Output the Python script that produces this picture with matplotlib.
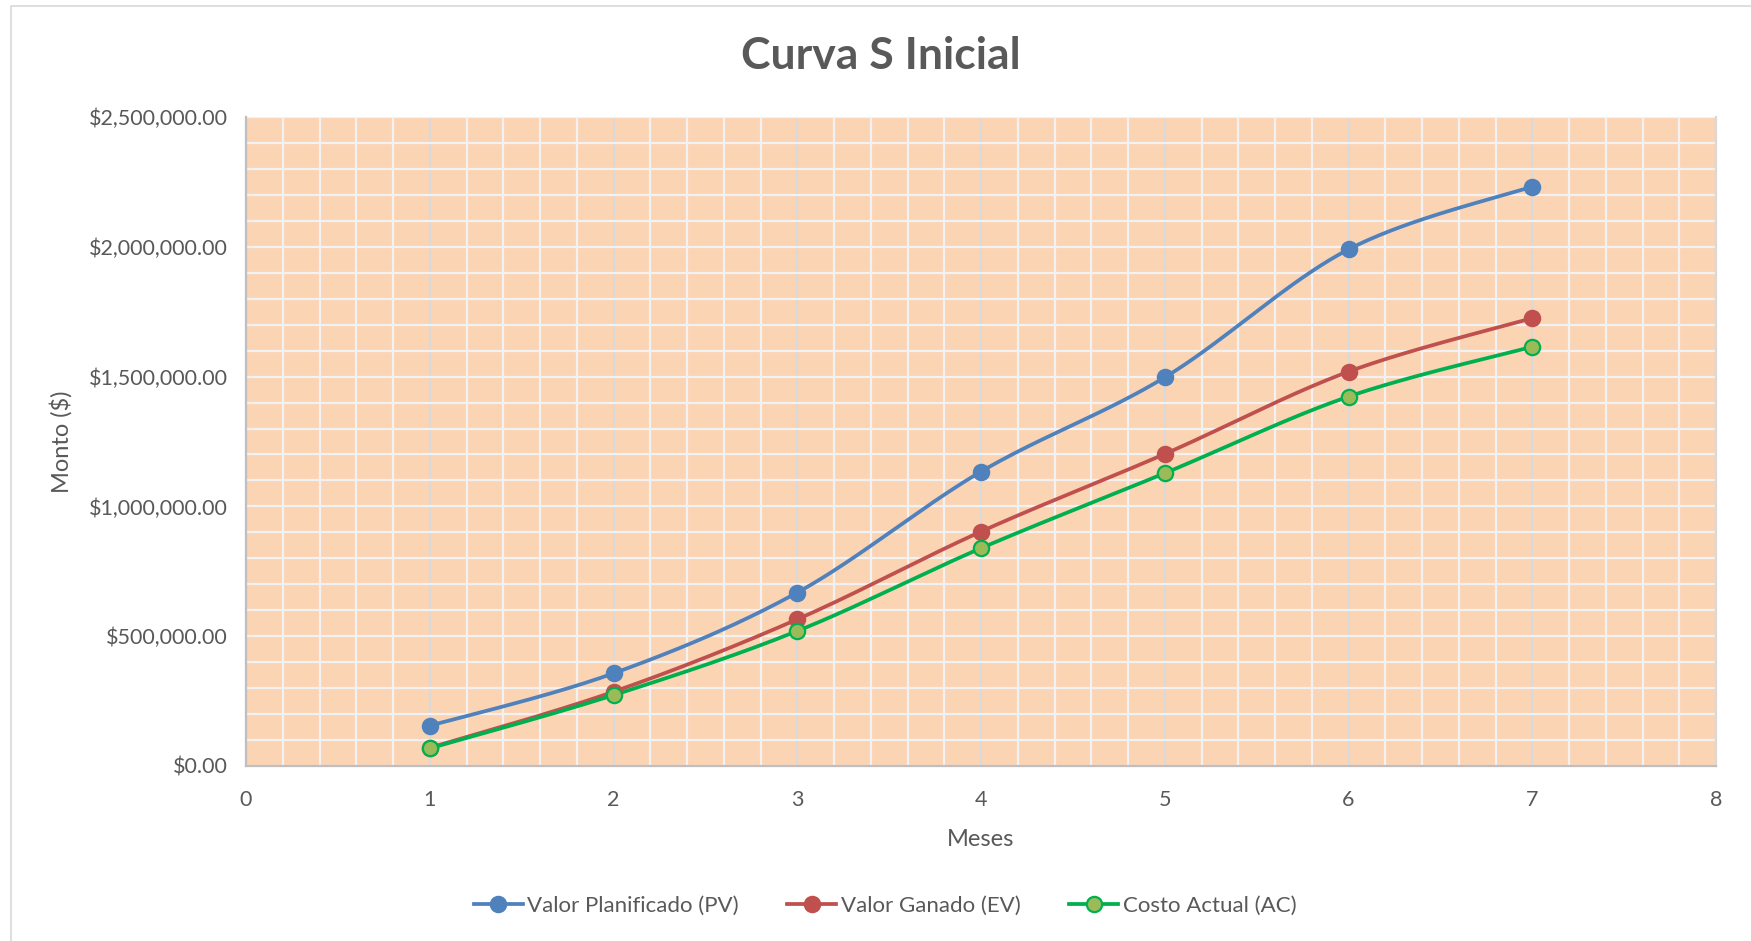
import numpy as np
import matplotlib
matplotlib.use('Agg')
import matplotlib.pyplot as plt
from matplotlib.ticker import MultipleLocator, FuncFormatter
from matplotlib.patches import Rectangle

plt.rcParams['font.family'] = ['Lato', 'DejaVu Sans']

#datos de la curva S
meses = [1, 2, 3, 4, 5, 6, 7]
pv = [155000, 357000, 668000, 1134000, 1497000, 1990000, 2232000]
ev = [70000, 286000, 565000, 903000, 1202000, 1519000, 1725000]
ac = [68000, 273000, 520000, 839000, 1128000, 1423000, 1615000]
nombres = ['Valor Planificado (PV)', 'Valor Ganado (EV)', 'Costo Actual (AC)']

gris = '#595959'


def suavizar(x, y, n=40):
    #curva suavizada tipo Excel (bezier con tangentes de Catmull-Rom)
    x = np.asarray(x, float)
    y = np.asarray(y, float)
    px = np.concatenate([[x[0]], x, [x[-1]]])
    py = np.concatenate([[y[0]], y, [y[-1]]])
    t = np.linspace(0, 1, n)[:, None]
    xs, ys = [], []
    for i in range(1, len(px) - 2):
        p0 = np.array([px[i], py[i]])
        p3 = np.array([px[i + 1], py[i + 1]])
        p1 = p0 + (np.array([px[i + 1], py[i + 1]]) - np.array([px[i - 1], py[i - 1]])) / 6
        p2 = p3 - (np.array([px[i + 2], py[i + 2]]) - np.array([px[i], py[i]])) / 6
        b = (1 - t) ** 3 * p0 + 3 * (1 - t) ** 2 * t * p1 + 3 * (1 - t) * t ** 2 * p2 + t ** 3 * p3
        xs.append(b[:, 0])
        ys.append(b[:, 1])
    return np.concatenate(xs), np.concatenate(ys)


fig = plt.figure(figsize=(17.51, 9.41), dpi=100)
fig.patches.append(Rectangle((11 / 1751, -0.01), 1.1, 1 - 6 / 941 + 0.01, transform=fig.transFigure,
                             fill=False, edgecolor='#d9d9d9', lw=1.2))
ax = fig.add_axes([246 / 1751, 1 - 766 / 941, (1716 - 246) / 1751, (766 - 117) / 941])
ax.set_facecolor('#fbd4b4')

ax.set_xlim(0, 8)
ax.set_ylim(0, 2500000)
ax.xaxis.set_major_locator(MultipleLocator(1))
ax.xaxis.set_minor_locator(MultipleLocator(0.2))
ax.yaxis.set_major_locator(MultipleLocator(500000))
ax.yaxis.set_minor_locator(MultipleLocator(100000))
ax.yaxis.set_major_formatter(FuncFormatter(lambda v, p: f'${v:,.2f}'))

#cuadricula
ax.grid(which='minor', color='#f2f2f2', lw=1.6)
ax.grid(which='major', axis='y', color='#f2f2f2', lw=1.6)
ax.grid(which='major', axis='x', color='#d9d9d9', lw=1.6)
ax.set_axisbelow(True)

ax.spines['top'].set_visible(False)
ax.spines['right'].set_color('#d9d9d9')
ax.spines['left'].set_color('#bfbfbf')
ax.spines['bottom'].set_color('#bfbfbf')
for s in ['left', 'bottom', 'right']:
    ax.spines[s].set_linewidth(1.6)

ax.tick_params(which='both', length=0, colors=gris, labelsize=15.5)
ax.tick_params(axis='y', pad=13)
ax.tick_params(axis='x', pad=17)

series = [(pv, '#4f81bd', '#4f81bd', '#4f81bd'),
          (ev, '#c0504d', '#c0504d', '#c0504d'),
          (ac, '#00b050', '#9bbb59', '#00b050')]
for (vals, color, fill, borde), nombre in zip(series, nombres):
    sx, sy = suavizar(meses, vals)
    ax.plot(sx, sy, color=color, lw=2.7, solid_capstyle='round', zorder=3)
    ax.plot(meses, vals, ls='none', marker='o', ms=11, mfc=fill, mec=borde, mew=1.6, zorder=4)
    ax.plot([], [], color=color, lw=2.7, marker='o', ms=11, mfc=fill, mec=borde, mew=1.6, label=nombre)

ax.set_xlabel('Meses', fontsize=17, color=gris, labelpad=14)
ax.set_ylabel('Monto ($)', fontsize=17, color=gris, labelpad=12)
fig.text(881 / 1751, 1 - 56 / 941, 'Curva S Inicial', ha='center', va='center',
         fontsize=32, fontweight='bold', color=gris)

fig.legend(loc='center', bbox_to_anchor=(885 / 1751, 1 - 906 / 941), ncol=3, frameon=False,
           fontsize=16, labelcolor=gris, handlelength=2.2, handletextpad=0.2, columnspacing=2.2)

fig.savefig('out.png', dpi=100)
